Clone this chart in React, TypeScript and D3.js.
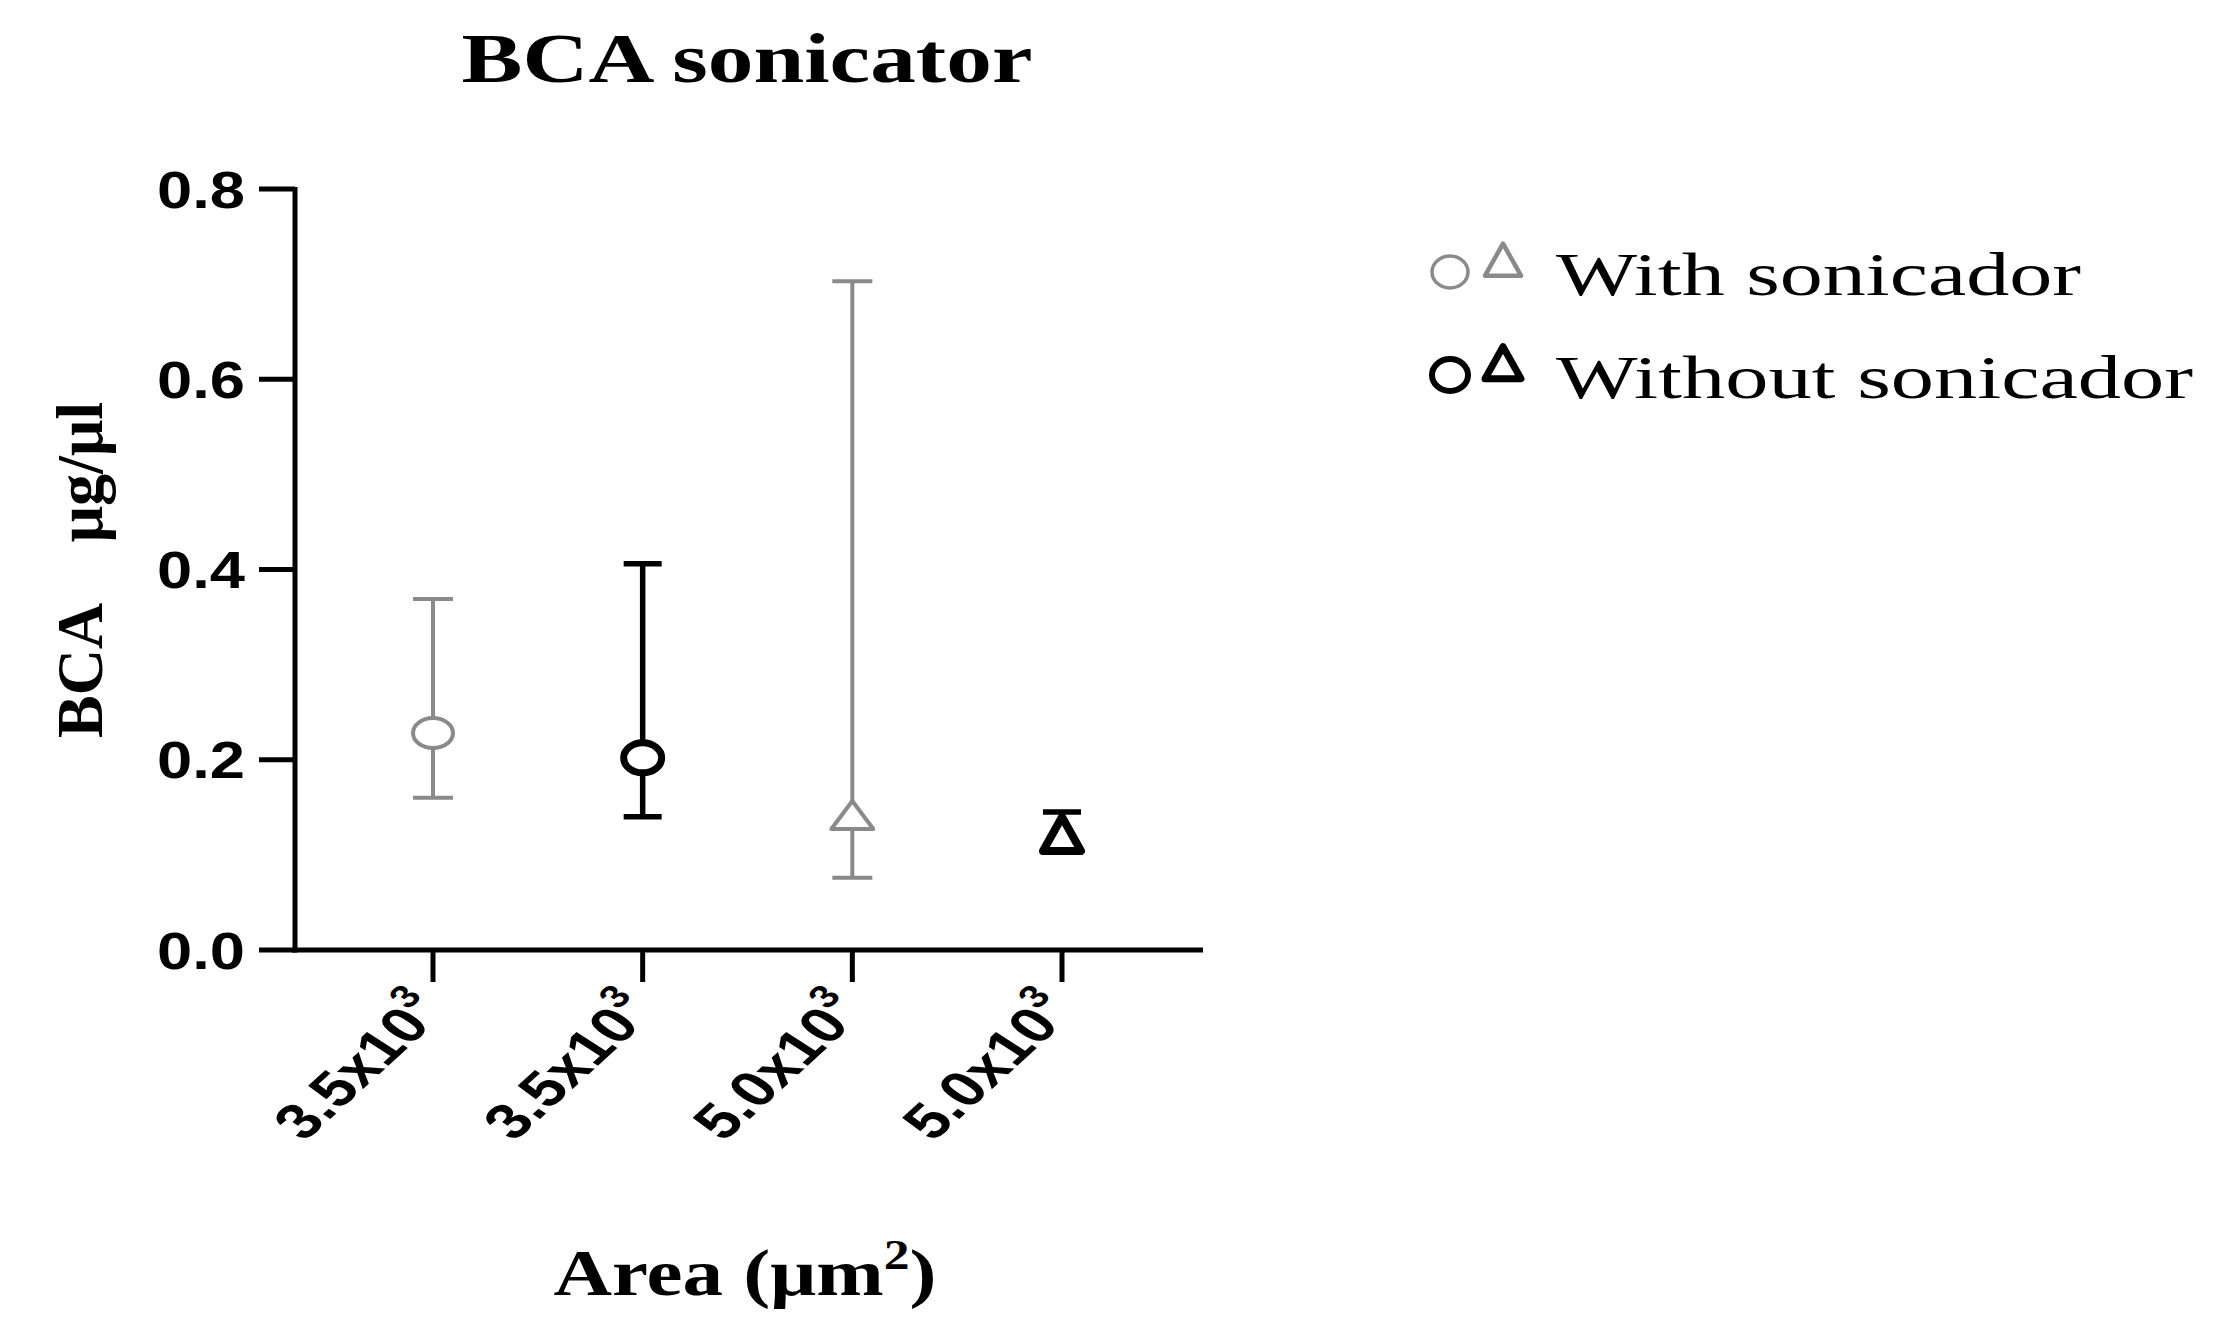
import React from 'react';
import * as d3 from 'd3';

const categories = ['3.5x10', '3.5x10', '5.0x10', '5.0x10'];
const exponents = ['3', '3', '3', '3'];
const groupSeries = [0, 1, 0, 1]; // 0 = With sonicador, 1 = Without sonicador
const groupShapes = ['circle', 'circle', 'triangle', 'triangle'];
const means = [0.228, 0.202, 0.137, 0.116];
const upperErr = [0.369, 0.406, 0.703, 0.145];
const lowerErr = [0.160, 0.140, 0.076, 0.104];
const yTicks = [0, 0.2, 0.4, 0.6, 0.8];
const legendLabels = ['With sonicador', 'Without sonicador'];
const seriesColors = ['#8a8a8a', '#000000'];

const W = 2224;
const H = 1332;
const AX_X = 295;
const Y_TOP = 189;
const Y_ZERO = 950;
const X_END = 1203;
const SX = 1.3; // horizontal stretch of the source figure

export default function App() {
  const y = d3.scaleLinear().domain([0, 0.8]).range([Y_ZERO, Y_TOP]);
  const x = d3
    .scalePoint<string>()
    .domain(categories.map((_, i) => String(i)))
    .range([433, 1062]);
  const tickFmt = d3.format('.1f');
  const serif = "'Liberation Serif', 'Times New Roman', serif";
  const sans = "'Liberation Sans', Arial, sans-serif";

  const triPath = (cx: number, cy: number, w: number, h: number) =>
    `M${cx},${cy - (2 * h) / 3}L${cx + w / 2},${cy + h / 3}L${cx - w / 2},${cy + h / 3}Z`;

  const marker = (shape: string, cx: number, cy: number, s: number, key: string) => {
    const color = seriesColors[s];
    const sw = s === 0 ? 4 : 7;
    if (shape === 'circle') {
      return (
        <ellipse
          key={key}
          cx={cx}
          cy={cy}
          rx={s === 0 ? 20 : 19}
          ry={15}
          fill="white"
          stroke={color}
          strokeWidth={sw}
        />
      );
    }
    return (
      <path
        key={key}
        d={triPath(cx, cy, s === 0 ? 42 : 38, s === 0 ? 28 : 34)}
        fill="white"
        stroke={color}
        strokeWidth={s === 0 ? 4 : 8}
        strokeLinejoin="round"
      />
    );
  };

  return (
    <svg
      width={W}
      height={H}
      viewBox={`0 0 ${W} ${H}`}
      style={{ position: 'absolute', left: 0, top: 0, background: 'white' }}
    >
      <rect x={0} y={0} width={W} height={H} fill="white" />
      {/* Title */}
      <text
        x={747}
        y={82}
        textAnchor="middle"
        fontFamily={serif}
        fontWeight="bold"
        fontSize={70}
        textLength={571}
        lengthAdjust="spacingAndGlyphs"
      >
        BCA sonicator
      </text>

      {/* Y axis */}
      <line x1={AX_X} x2={AX_X} y1={Y_TOP - 2} y2={Y_ZERO + 2.5} stroke="black" strokeWidth={5} />
      {yTicks.map((t) => (
        <g key={t}>
          <line x1={AX_X - 36} x2={AX_X} y1={y(t)} y2={y(t)} stroke="black" strokeWidth={5} />
          <text
            x={245}
            y={y(t)}
            dy="0.36em"
            textAnchor="end"
            fontFamily={sans}
            fontWeight="bold"
            fontSize={52}
            textLength={88}
            lengthAdjust="spacingAndGlyphs"
          >
            {tickFmt(t)}
          </text>
        </g>
      ))}

      {/* X axis */}
      <line x1={AX_X - 2.5} x2={X_END} y1={Y_ZERO} y2={Y_ZERO} stroke="black" strokeWidth={5} />
      {categories.map((c, i) => {
        const cx = x(String(i))!;
        return (
          <g key={'xt' + i}>
            <line x1={cx} x2={cx} y1={Y_ZERO} y2={Y_ZERO + 32} stroke="black" strokeWidth={5} />
            <g transform={`translate(${cx + 14},${Y_ZERO + 62}) scale(${SX},1) rotate(-50)`}>
              <text textAnchor="end" fontFamily={sans} fontWeight="bold" fontSize={50}>
                {c}
                <tspan fontSize={32} dy={-24}>
                  {exponents[i]}
                </tspan>
              </text>
            </g>
          </g>
        );
      })}

      {/* Error bars and markers */}
      {categories.map((_, i) => {
        const cx = x(String(i))!;
        const s = groupSeries[i];
        const color = seriesColors[s];
        const sw = s === 0 ? 4 : 5.5;
        const cap = s === 0 ? 20 : 19;
        return (
          <g key={'pt' + i}>
            <line x1={cx} x2={cx} y1={y(upperErr[i])} y2={y(lowerErr[i])} stroke={color} strokeWidth={sw} />
            <line x1={cx - cap} x2={cx + cap} y1={y(upperErr[i])} y2={y(upperErr[i])} stroke={color} strokeWidth={sw} />
            <line x1={cx - cap} x2={cx + cap} y1={y(lowerErr[i])} y2={y(lowerErr[i])} stroke={color} strokeWidth={sw} />
            {marker(groupShapes[i], cx, y(means[i]), s, 'm' + i)}
          </g>
        );
      })}

      {/* Y axis title */}
      <g transform={`translate(102,570) rotate(-90)`}>
        <text
          textAnchor="middle"
          fontFamily={serif}
          fontWeight="bold"
          fontSize={66}
          style={{ whiteSpace: 'pre' }}
          textLength={336}
          lengthAdjust="spacingAndGlyphs"
        >
          {'BCA    μg/μl'}
        </text>
      </g>

      {/* X axis title */}
      <text
        x={745}
        y={1295}
        textAnchor="middle"
        fontFamily={serif}
        fontWeight="bold"
        fontSize={66}
        textLength={383}
        lengthAdjust="spacingAndGlyphs"
      >
        Area (μm
        <tspan fontSize={42} dy={-26}>2</tspan>
        <tspan dy={26}>)</tspan>
      </text>

      {/* Legend */}
      {legendLabels.map((lab, s) => {
        const baseY = s === 0 ? 295 : 398;
        const color = seriesColors[s];
        const sw = s === 0 ? 3.5 : 6;
        return (
          <g key={'lg' + s}>
            <ellipse cx={1450} cy={baseY - 23} rx={18} ry={16} fill="white" stroke={color} strokeWidth={sw} />
            <path
              d={triPath(1503, baseY - 30, 36, 32)}
              fill="white"
              stroke={color}
              strokeWidth={sw + 1}
              strokeLinejoin="round"
            />
            <text
              x={1556}
              y={baseY}
              fontFamily={serif}
              fontSize={62}
              textLength={s === 0 ? 525 : 637}
              lengthAdjust="spacingAndGlyphs"
            >
              {lab}
            </text>
          </g>
        );
      })}
    </svg>
  );
}
